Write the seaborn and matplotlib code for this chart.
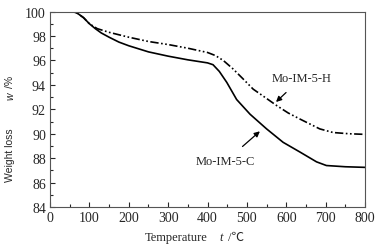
import matplotlib
matplotlib.use("Agg")
import matplotlib.pyplot as plt
import seaborn as sns
import pandas as pd
from matplotlib.ticker import MultipleLocator

temp_c = [30, 58, 70, 85, 100, 115, 130, 150, 175, 200, 250, 300, 350, 400, 414, 430, 449, 474, 508, 550, 592, 635, 677, 702, 750, 800]
wl_c = [100, 100, 99.85, 99.5, 99.0, 98.6, 98.25, 97.9, 97.5, 97.2, 96.7, 96.35, 96.05, 95.8, 95.65, 95.1, 94.2, 92.8, 91.6, 90.4, 89.3, 88.5, 87.7, 87.4, 87.3, 87.25]
temp_h = [30, 58, 70, 85, 100, 120, 150, 200, 250, 300, 350, 400, 420, 440, 465, 490, 516, 545, 576, 605, 635, 660, 685, 719, 760, 800]
wl_h = [100, 100, 99.85, 99.5, 99.0, 98.6, 98.3, 97.9, 97.55, 97.3, 97.0, 96.65, 96.4, 96.0, 95.3, 94.5, 93.65, 93.0, 92.3, 91.7, 91.2, 90.8, 90.4, 90.1, 90.0, 89.95]
xticks = [0, 100, 200, 300, 400, 500, 600, 700, 800]
yticks = [84, 86, 88, 90, 92, 94, 96, 98, 100]

sns.set_style("white")
plt.rcParams['font.family'] = ['Liberation Serif', 'Noto Sans CJK SC', 'DejaVu Serif']

df = pd.concat([
    pd.DataFrame({"T": temp_c, "w": wl_c, "s": "Mo-IM-5-C"}),
    pd.DataFrame({"T": temp_h, "w": wl_h, "s": "Mo-IM-5-H"}),
])

fig = plt.figure(figsize=(3.85, 2.51), dpi=100)
ax = fig.add_axes([0.130, 0.171, 0.818, 0.779])
sns.lineplot(data=df, x="T", y="w", style="s", color="black", linewidth=1.2,
             dashes={"Mo-IM-5-C": "", "Mo-IM-5-H": (5, 1.5, 1, 1.5, 1, 1.5)},
             legend=False, ax=ax, estimator=None, sort=False)

ax.set_xlim(0, 800)
ax.set_ylim(84, 100)
ax.set_xticks(xticks)
ax.set_yticks(yticks)
ax.xaxis.set_minor_locator(MultipleLocator(50))
ax.yaxis.set_minor_locator(MultipleLocator(1))
ax.tick_params(which='major', direction='in', length=3.5, width=0.8, labelsize=10, pad=3,
               bottom=True, left=True, top=False, right=False)
ax.tick_params(which='minor', direction='in', length=2, width=0.8,
               bottom=True, left=True, top=False, right=False)
for sp in ax.spines.values():
    sp.set_color('#555555')
    sp.set_linewidth(0.8)
ax.set_xlabel("")
ax.set_ylabel("")

# axis titles
fig.text(0.457, 0.052, "Temperature", fontsize=9, ha='center', va='center')
fig.text(0.574, 0.052, "t", fontsize=9, ha='center', va='center', style='italic')
fig.text(0.613, 0.052, "/℃", fontsize=9, ha='center', va='center',
         family=['Liberation Serif', 'Noto Sans CJK SC'])
fig.text(0.026, 0.382, "Weight loss", fontsize=7.5, ha='center', va='center', rotation=90,
         family=['Liberation Sans', 'DejaVu Sans'])
fig.text(0.026, 0.618, "w", fontsize=7.5, ha='center', va='center', rotation=90,
         style='italic', family=['Liberation Sans', 'DejaVu Sans'])
fig.text(0.026, 0.672, "/%", fontsize=7.5, ha='center', va='center', rotation=90,
         family=['Liberation Sans', 'DejaVu Sans'])

ax.annotate("Mo-IM-5-H", xy=(574, 92.6), xytext=(640, 94.6), fontsize=9,
            ha='center', va='center',
            arrowprops=dict(arrowstyle='-|>', color='black', lw=0.9, mutation_scale=8,
                            shrinkA=6, shrinkB=0))
ax.annotate("Mo-IM-5-C", xy=(533, 90.2), xytext=(446, 87.75), fontsize=9,
            ha='center', va='center',
            arrowprops=dict(arrowstyle='-|>', color='black', lw=0.9, mutation_scale=8,
                            shrinkA=6, shrinkB=0))

fig.savefig("out.png", dpi=100)
